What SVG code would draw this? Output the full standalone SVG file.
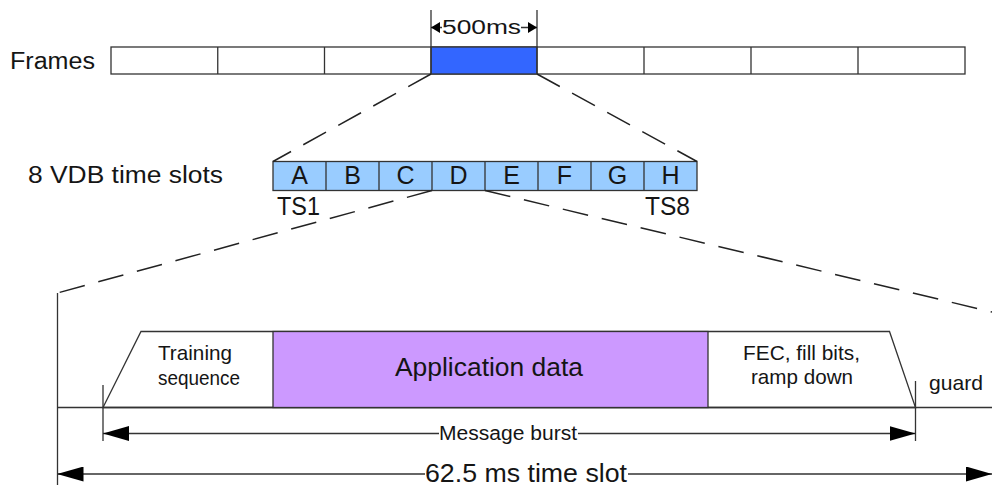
<svg xmlns="http://www.w3.org/2000/svg" width="992" height="492" viewBox="0 0 992 492">
<style>
text{font-family:"Liberation Sans",Arial,sans-serif;fill:#151515}
.ln{stroke:#333;stroke-width:1.3;fill:none}
.dash{stroke:#222;stroke-width:1.5;fill:none;stroke-dasharray:26,14}
.cell{stroke:#333;stroke-width:1.3}
</style>
<defs>
<marker id="ah" viewBox="0 0 10 10" refX="10" refY="5" markerWidth="26" markerHeight="15" markerUnits="userSpaceOnUse" orient="auto-start-reverse" preserveAspectRatio="none"><path d="M0,0L10,5L0,10z" fill="#000"/></marker>
<marker id="ahs" viewBox="0 0 10 10" refX="10" refY="5" markerWidth="9" markerHeight="11" markerUnits="userSpaceOnUse" orient="auto-start-reverse" preserveAspectRatio="none"><path d="M0,0L10,5L0,10z" fill="#000"/></marker>
</defs>
<rect width="992" height="492" fill="#fff"/>
<g id="frames">
<text x="10" y="69" font-size="23" textLength="85" lengthAdjust="spacingAndGlyphs">Frames</text>
<rect x="111" y="47" width="854" height="27" fill="#fff" class="cell"/>
<rect x="431" y="47" width="106" height="27" fill="#3366FF" class="cell"/>
<path class="cell" d="M217.75,47V74M324.5,47V74M431,47V74M537,47V74M644,47V74M751,47V74M858,47V74"/>
</g>
<g id="frame-duration">
<path class="ln" d="M431,10V47M537,10V47"/>
<line x1="431" y1="27.5" x2="537" y2="27.5" class="ln" marker-start="url(#ahs)" marker-end="url(#ahs)"/>
<rect x="442" y="18" width="79" height="18" fill="#fff"/>
<text x="442" y="34" font-size="20" textLength="79" lengthAdjust="spacingAndGlyphs">500ms</text>
</g>
<g id="slots">
<text x="28" y="183" font-size="23" textLength="195" lengthAdjust="spacingAndGlyphs">8 VDB time slots</text>
<rect x="273" y="161.5" width="424" height="29" fill="#99CCFF" class="cell"/>
<path class="cell" d="M326,161.5V190.5M379,161.5V190.5M432,161.5V190.5M485,161.5V190.5M538,161.5V190.5M591,161.5V190.5M644,161.5V190.5"/>
<g font-size="25" text-anchor="middle">
<text x="299.5" y="184">A</text><text x="352.5" y="184">B</text><text x="405.5" y="184">C</text><text x="458.5" y="184">D</text><text x="511.5" y="184">E</text><text x="564.5" y="184">F</text><text x="617.5" y="184">G</text><text x="670.5" y="184">H</text>
</g>
<text x="277" y="215" font-size="25" textLength="43" lengthAdjust="spacingAndGlyphs">TS1</text>
<text x="645" y="215" font-size="25" textLength="45" lengthAdjust="spacingAndGlyphs">TS8</text>
</g>
<g id="connectors">
<line x1="431" y1="74" x2="273" y2="161.5" class="dash"/>
<line x1="537" y1="74" x2="697" y2="161.5" class="dash"/>
<line x1="432" y1="190.5" x2="57.5" y2="293" class="dash"/>
<line x1="485" y1="190.5" x2="992" y2="312" class="dash"/>
</g>
<g id="burst">
<path class="ln" d="M57.5,293V485"/>
<path class="ln" d="M57.5,407.5H992"/>
<path d="M103,407.5L141,331.5H889.5L915.5,407.5Z" fill="#fff" class="ln"/>
<rect x="273" y="331.5" width="435" height="76" fill="#CC99FF" class="cell"/>
<text x="158" y="360" font-size="21" textLength="74" lengthAdjust="spacingAndGlyphs">Training</text>
<text x="158" y="385" font-size="21" textLength="82" lengthAdjust="spacingAndGlyphs">sequence</text>
<text x="395" y="376" font-size="26" textLength="188" lengthAdjust="spacingAndGlyphs">Application data</text>
<text x="743" y="359.5" font-size="21" textLength="117" lengthAdjust="spacingAndGlyphs">FEC, fill bits,</text>
<text x="751" y="384" font-size="21" textLength="102" lengthAdjust="spacingAndGlyphs">ramp down</text>
<text x="929" y="390" font-size="21" textLength="54" lengthAdjust="spacingAndGlyphs">guard</text>
</g>
<g id="message-burst">
<path class="ln" d="M103,385V441M915.5,381V441"/>
<line x1="103" y1="433.5" x2="915.5" y2="433.5" class="ln" marker-start="url(#ah)" marker-end="url(#ah)"/>
<rect x="439" y="424" width="139" height="20" fill="#fff"/>
<text x="439" y="439.5" font-size="20" textLength="138" lengthAdjust="spacingAndGlyphs">Message burst</text>
</g>
<g id="time-slot">
<line x1="57.5" y1="474" x2="992" y2="474" class="ln" marker-start="url(#ah)" marker-end="url(#ah)"/>
<rect x="425" y="460" width="203" height="28" fill="#fff"/>
<text x="425" y="482" font-size="26" textLength="202" lengthAdjust="spacingAndGlyphs">62.5 ms time slot</text>
</g>
</svg>
